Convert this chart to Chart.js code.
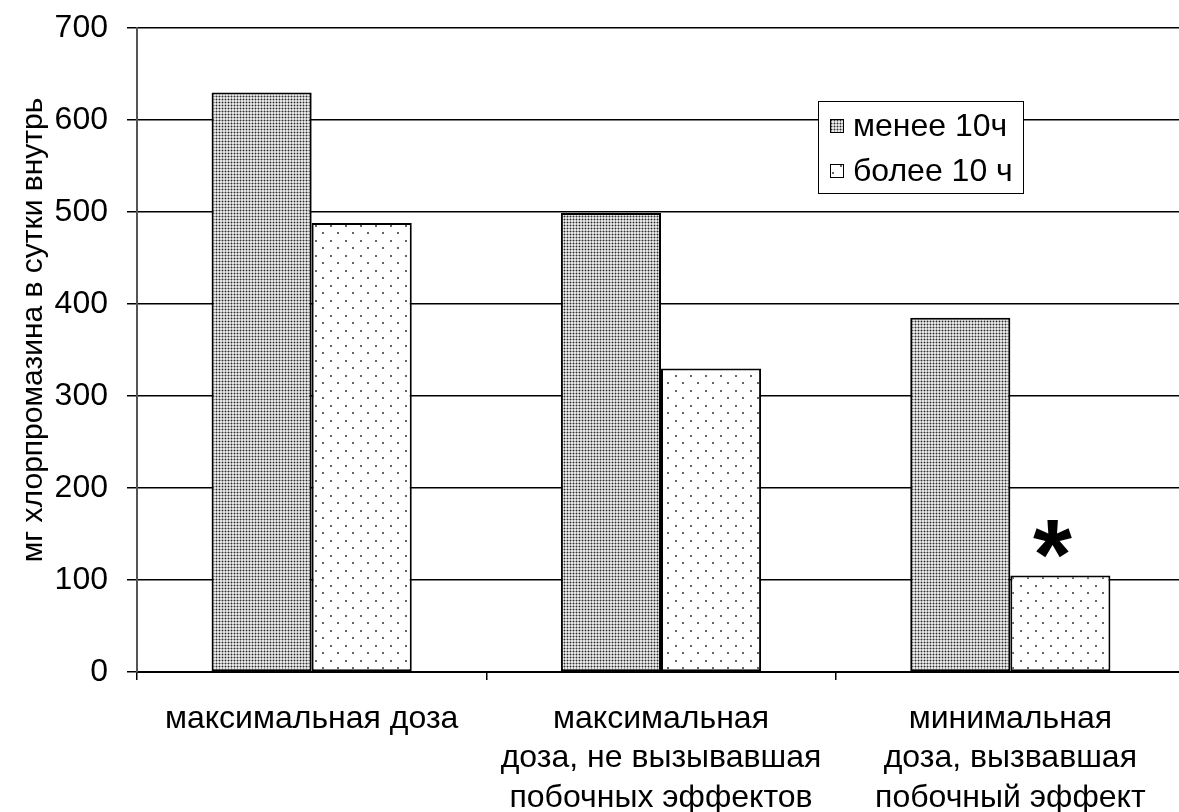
<!DOCTYPE html>
<html>
<head>
<meta charset="utf-8">
<script src="https://cdn.jsdelivr.net/npm/chart.js@4.4.1/dist/chart.umd.min.js"></script>
<style>
  html, body { margin: 0; padding: 0; background: #fff; overflow: hidden; }
  #wrap { position: absolute; left: 0; top: 0; }
</style>
</head>
<body>
<div id="wrap"><canvas id="doseChart" width="1185" height="812"></canvas></div>
<script>
// Dose groups and mean daily dose (mg chlorpromazine) per sleep-duration group
const categories = [
    ['максимальная доза'],
    ['максимальная', 'доза, не вызывавшая', 'побочных эффектов'],
    ['минимальная', 'доза, вызвавшая', 'побочный эффект']
];
const seriesNames = ['менее 10ч', 'более 10 ч'];
const lessThan10 = [630, 499, 385];
const moreThan10 = [488, 330, 105];
const yTicks = [0, 100, 200, 300, 400, 500, 600, 700];
const yTitle = 'мг хлорпромазина в сутки внутрь';
const significant = [null, null, '*']; // marks over the second series

const FONT = '"Liberation Sans", Arial, sans-serif';

// Fill patterns: dense dark stipple and sparse dots
function makeTile(size, paint) {
    const c = document.createElement('canvas');
    c.width = size;
    c.height = size;
    const g = c.getContext('2d');
    g.fillStyle = '#fff';
    g.fillRect(0, 0, size, size);
    paint(g);
    return c;
}

const denseTile = makeTile(3, g => {
    g.fillStyle = '#e6e6e6';
    g.fillRect(0, 0, 3, 3);
    g.fillStyle = '#a0a0a0';
    g.fillRect(0, 0, 3, 1);
    g.fillRect(0, 0, 1, 3);
    g.fillStyle = '#2a2a2a';
    g.fillRect(0, 0, 1, 1);
});

const dotTile = makeTile(15, g => {
    g.fillStyle = '#666';
    g.fillRect(0, 0, 2, 2);
    g.fillRect(7, 7, 2, 2);
});

const canvas = document.getElementById('doseChart');
const ctx = canvas.getContext('2d');
const densePattern = ctx.createPattern(denseTile, 'repeat');
const dotPattern = ctx.createPattern(dotTile, 'repeat');
const fills = [densePattern, dotPattern];

// Boxed legend inside the plot area
const boxLegend = {
    id: 'boxLegend',
    afterDraw(chart) {
        const c = chart.ctx;
        const x = 818, y = 101, w = 205, h = 92;
        c.save();
        c.fillStyle = '#fff';
        c.fillRect(x, y, w, h);
        c.strokeStyle = '#000';
        c.lineWidth = 1;
        c.strokeRect(x + 0.5, y + 0.5, w, h);
        c.font = '32px ' + FONT;
        c.textBaseline = 'middle';
        c.textAlign = 'left';
        seriesNames.forEach((name, i) => {
            const cy = y + 25 + i * 45;
            c.fillStyle = fills[i];
            c.fillRect(830, cy - 7, 14, 14);
            c.strokeStyle = '#000';
            c.strokeRect(830.5, cy - 6.5, 13, 13);
            c.fillStyle = '#000';
            c.fillText(name, 853, cy + 1);
        });
        c.restore();
    }
};

// Rotated y axis title
const axisTitle = {
    id: 'axisTitle',
    afterDraw(chart) {
        const c = chart.ctx;
        c.save();
        c.translate(34, 330);
        c.rotate(-Math.PI / 2);
        c.font = '30px ' + FONT;
        c.fillStyle = '#000';
        c.textAlign = 'center';
        c.textBaseline = 'middle';
        c.fillText(yTitle, 0, 0);
        c.restore();
    }
};

// Significance mark above a bar
const starMarks = {
    id: 'starMarks',
    afterDatasetsDraw(chart) {
        const meta = chart.getDatasetMeta(1);
        const c = chart.ctx;
        c.save();
        c.font = 'bold 100px ' + FONT;
        c.fillStyle = '#000';
        c.textAlign = 'center';
        c.textBaseline = 'alphabetic';
        significant.forEach((mark, i) => {
            if (!mark) return;
            const bar = meta.data[i];
            const m = c.measureText(mark);
            const glyphMid = (m.actualBoundingBoxAscent - m.actualBoundingBoxDescent) / 2;
            c.fillText(mark, bar.x - 8, bar.y - 36 + glyphMid);
        });
        c.restore();
    }
};

new Chart(canvas, {
    type: 'bar',
    data: {
        labels: categories,
        datasets: [
            {
                label: seriesNames[0],
                data: lessThan10,
                backgroundColor: densePattern,
                borderColor: '#000',
                borderWidth: 2,
                borderSkipped: false
            },
            {
                label: seriesNames[1],
                data: moreThan10,
                backgroundColor: dotPattern,
                borderColor: '#000',
                borderWidth: 2,
                borderSkipped: false
            }
        ]
    },
    options: {
        responsive: false,
        animation: false,
        devicePixelRatio: 1,
        layout: { padding: { top: 28, right: 0, bottom: 0, left: 0 } },
        datasets: {
            bar: { categoryPercentage: 0.573, barPercentage: 1 }
        },
        plugins: {
            legend: { display: false },
            tooltip: { enabled: false }
        },
        scales: {
            x: {
                afterFit(scale) {
                    scale.height = 140;
                    scale.paddingLeft = 0;
                    scale.paddingRight = 0;
                },
                grid: {
                    offset: true,
                    drawOnChartArea: false,
                    color: '#000',
                    tickLength: 8,
                    lineWidth: 1.5
                },
                border: { color: '#000', width: 2 },
                ticks: {
                    color: '#000',
                    padding: 19,
                    maxRotation: 0,
                    autoSkip: false,
                    font: { family: FONT, size: 32, lineHeight: 1.24 }
                }
            },
            y: {
                min: 0,
                max: 700,
                afterFit(scale) {
                    scale.width = 137;
                    scale.paddingTop = 0;
                    scale.paddingBottom = 0;
                },
                afterBuildTicks(scale) {
                    scale.ticks = yTicks.map(v => ({ value: v }));
                },
                grid: {
                    color: '#000',
                    lineWidth: 1.5,
                    tickLength: 10
                },
                border: { color: '#555', width: 2 },
                ticks: {
                    color: '#000',
                    padding: 19,
                    font: { family: FONT, size: 32 }
                }
            }
        }
    },
    plugins: [axisTitle, starMarks, boxLegend]
});
</script>
</body>
</html>
